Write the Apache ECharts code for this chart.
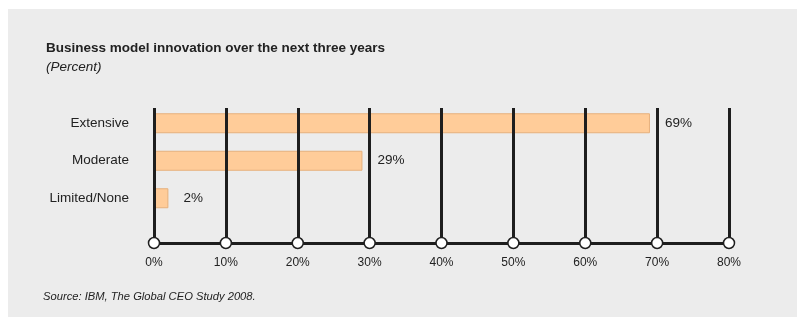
<!DOCTYPE html>
<html>
<head>
<meta charset="utf-8">
<script src="https://cdn.jsdelivr.net/npm/echarts@6/dist/echarts.min.js"></script>
<style>
  html, body { margin: 0; padding: 0; background: #ffffff; }
  #chart { width: 798px; height: 320px; }
</style>
</head>
<body>
<div id="chart"></div>
<script>
// Survey answers on the extent of planned business model innovation
const categories = ['Extensive', 'Moderate', 'Limited/None'];
const shares = [69, 29, 2];
const tickValues = [0, 10, 20, 30, 40, 50, 60, 70, 80];

const FONT = '"Liberation Sans Narrow", "Arial Narrow", "Liberation Sans", Arial, sans-serif';

const chart = echarts.init(document.getElementById('chart'), null, { renderer: 'canvas' });

chart.setOption({
  backgroundColor: '#ffffff',
  animation: false,
  graphic: [
    {
      type: 'rect',
      left: 8, top: 9,
      shape: { width: 789, height: 308 },
      style: { fill: '#ececec' },
      z: -10
    },
    {
      type: 'text',
      left: 43, top: 291,
      style: {
        text: 'Source: IBM, The Global CEO Study 2008.',
        font: 'italic 11.2px ' + FONT,
        fill: '#222222'
      }
    }
  ],
  title: {
    text: 'Business model innovation over the next three years',
    subtext: '(Percent)',
    left: 41, top: 36,
    itemGap: 5,
    textStyle: { fontFamily: FONT, fontWeight: 'bold', fontSize: 13.5, color: '#222222' },
    subtextStyle: { fontFamily: FONT, fontStyle: 'italic', fontSize: 13.5, color: '#222222' }
  },
  grid: [
    { left: 154, right: 69, top: 104.5, height: 112.5 },
    { left: 154, right: 69, top: 108, bottom: 77 }
  ],
  xAxis: [
    { gridIndex: 0, type: 'value', min: 0, max: 80, show: false },
    {
      gridIndex: 1, type: 'value', min: 0, max: 80, interval: 10, z: 5,
      axisLine: { show: true, lineStyle: { color: '#1e1e1e', width: 3 } },
      axisTick: { show: false },
      splitLine: { show: true, lineStyle: { color: '#1e1e1e', width: 3 } },
      axisLabel: {
        formatter: '{value}%', margin: 14,
        fontFamily: FONT, fontSize: 12, color: '#222222'
      }
    }
  ],
  yAxis: [
    {
      gridIndex: 0, type: 'category', data: categories, inverse: true,
      axisLine: { show: false }, axisTick: { show: false }, splitLine: { show: false },
      axisLabel: { margin: 25, fontFamily: FONT, fontSize: 13.5, color: '#222222' }
    },
    { gridIndex: 1, type: 'value', min: 0, max: 1, show: false }
  ],
  series: [
    {
      type: 'bar',
      xAxisIndex: 0, yAxisIndex: 0,
      data: shares,
      barWidth: 20,
      z: 2,
      itemStyle: { color: '#ffcc99', borderColor: '#e6b07c', borderWidth: 1 },
      label: {
        show: true, position: 'right', distance: 15,
        formatter: '{c}%',
        fontFamily: FONT, fontSize: 13.5, color: '#222222'
      }
    },
    {
      type: 'scatter',
      xAxisIndex: 1, yAxisIndex: 1,
      data: tickValues.map(v => [v, 0]),
      symbol: 'circle', symbolSize: 11,
      z: 10,
      itemStyle: { color: '#ffffff', borderColor: '#1e1e1e', borderWidth: 1.5, opacity: 1 },
      silent: true
    }
  ]
});
</script>
</body>
</html>
